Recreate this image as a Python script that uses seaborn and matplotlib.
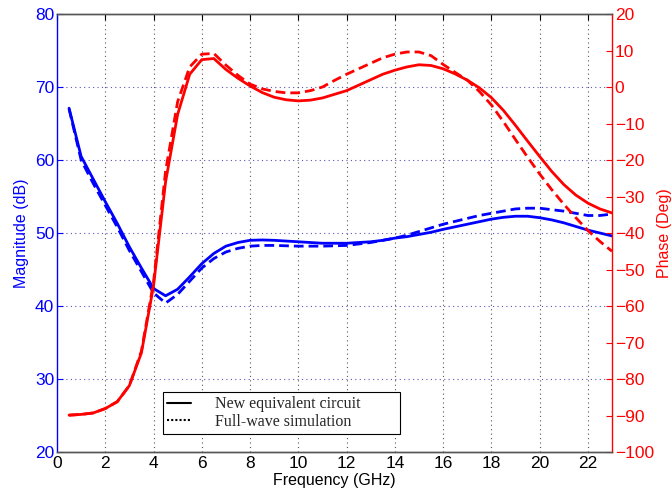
import numpy as np
import pandas as pd
import matplotlib
matplotlib.use("Agg")
import matplotlib.pyplot as plt
from matplotlib.lines import Line2D
import seaborn as sns

# ---- data ----
freq = [0.5, 1.0, 1.5, 2.0, 2.5, 3.0, 3.5, 4.0, 4.5, 5.0, 5.5, 6.0, 6.5, 7.0, 7.5, 8.0,
        8.5, 9.0, 9.5, 10.0, 10.5, 11.0, 11.5, 12.0, 12.5, 13.0, 13.5, 14.0, 14.5, 15.0,
        15.5, 16.0, 16.5, 17.0, 17.5, 18.0, 18.5, 19.0, 19.5, 20.0, 20.5, 21.0, 21.5,
        22.0, 22.5, 23.0]

mag_new = [67.1, 60.5, 57.4, 54.3, 51.3, 48.1, 45.2, 42.4, 41.4, 42.3, 44.0, 45.8, 47.2, 48.2, 48.7, 49.0,
           49.05, 49.0, 48.9, 48.8, 48.7, 48.6, 48.6, 48.6, 48.7, 48.8, 49.0, 49.3, 49.5, 49.8,
           50.1, 50.5, 50.85, 51.2, 51.55, 51.9, 52.15, 52.3, 52.3, 52.1, 51.8, 51.4, 50.9,
           50.4, 50.0, 49.6]

mag_fw = [67.0, 60.0, 56.8, 53.8, 50.8, 47.6, 44.7, 41.8, 40.4, 41.6, 43.4, 45.2, 46.5, 47.4, 47.9, 48.2,
          48.3, 48.3, 48.25, 48.2, 48.2, 48.2, 48.25, 48.3, 48.5, 48.7, 49.0, 49.3, 49.7, 50.2,
          50.7, 51.2, 51.6, 52.0, 52.4, 52.7, 53.0, 53.3, 53.4, 53.4, 53.2, 53.0, 52.7,
          52.4, 52.4, 52.6]

ph_new = [-89.9, -89.7, -89.3, -88.1, -86.2, -81.8, -72.8, -54.5, -26.0, -7.5, 3.5, 7.5, 7.8, 4.8, 2.4, 0.3,
          -1.5, -2.8, -3.5, -3.8, -3.6, -3.0, -2.0, -1.0, 0.5, 2.0, 3.5, 4.6, 5.5, 6.1,
          5.9, 5.0, 3.6, 1.9, -0.2, -2.9, -6.4, -10.5, -14.8, -19.0, -23.1, -26.7, -29.6,
          -31.8, -33.4, -34.5]

ph_fw = [-89.9, -89.7, -89.3, -88.1, -86.2, -81.8, -72.3, -53.5, -23.0, -4.0, 5.5, 9.0, 9.2, 6.0, 3.2, 0.8,
         -0.5, -1.2, -1.6, -1.6, -1.0, 0.0, 1.8, 3.5, 5.0, 6.5, 8.0, 9.0, 9.6, 9.6,
         8.6, 6.2, 4.0, 1.9, -1.2, -4.9, -9.5, -14.4, -19.2, -23.8, -28.1, -32.1, -35.8,
         -39.3, -42.3, -45.0]

legend_labels = ["New equivalent circuit", "Full-wave simulation"]
x_ticks = list(range(0, 23, 2))
mag_ticks = list(range(20, 81, 10))
ph_ticks = list(range(-100, 21, 10))

# ---- style ----
sns.set_style("white")
plt.rcParams["font.family"] = ["Liberation Sans", "DejaVu Sans"]

BLUE = "#0000ff"
RED = "#ff0000"
DASH = (3.5, 1.8)

fig = plt.figure(figsize=(6.72, 4.97), dpi=100)
ax = fig.add_axes([0.0848, 0.0905, 0.8259, 0.8813])
ax2 = ax.twinx()

df = pd.DataFrame({"f": freq, "mag_new": mag_new, "mag_fw": mag_fw,
                   "ph_new": ph_new, "ph_fw": ph_fw})

sns.lineplot(data=df, x="f", y="mag_new", ax=ax, color=BLUE, lw=2.0, estimator=None)
sns.lineplot(data=df, x="f", y="mag_fw", ax=ax, color=BLUE, lw=2.0, estimator=None)
ax.lines[-1].set_dashes(DASH)
sns.lineplot(data=df, x="f", y="ph_new", ax=ax2, color=RED, lw=2.0, estimator=None)
sns.lineplot(data=df, x="f", y="ph_fw", ax=ax2, color=RED, lw=2.0, estimator=None)
ax2.lines[-1].set_dashes(DASH)

ax.set_xlim(0, 23)
ax.set_ylim(20, 80)
ax2.set_ylim(-100, 20)
ax.set_xticks(x_ticks)
ax.set_yticks(mag_ticks)
ax2.set_yticks(ph_ticks)

# grid
for xv in x_ticks[1:]:
    ax.axvline(xv, color="#555555", lw=0.8, ls=(0, (1, 3)), zorder=0)
for yv in mag_ticks[1:-1]:
    ax.axhline(yv, color="#5555bb", lw=0.8, ls=(0, (1, 3)), zorder=0)

ax.set_xlabel("Frequency (GHz)", fontsize=11.5, color="black", labelpad=1)
ax.set_ylabel("Magnitude (dB)", fontsize=11.5, color=BLUE, labelpad=4)
ax2.set_ylabel("Phase (Deg)", fontsize=11.5, color=RED, labelpad=2)

ax.tick_params(axis="x", direction="in", length=4, labelsize=12.5, colors="black", pad=3, top=True)
ax.tick_params(axis="y", direction="in", length=4, labelsize=12.5, colors=BLUE, labelcolor=BLUE, pad=2)
ax2.tick_params(axis="y", direction="in", length=4, labelsize=12.5, colors=RED, labelcolor=RED, pad=2)

for a in (ax, ax2):
    a.spines["top"].set_color("#555555")
    a.spines["bottom"].set_color("#555555")
    a.spines["left"].set_color(BLUE)
    a.spines["right"].set_color(RED)
    for s in a.spines.values():
        s.set_linewidth(1.0)
ax2.spines["left"].set_visible(False)
ax.spines["right"].set_visible(False)

handles = [Line2D([], [], color="black", lw=1.5, ls="-"),
           Line2D([], [], color="black", lw=1.5, ls=(0, (1, 1)))]
leg = ax2.legend(handles, legend_labels, loc="lower left", bbox_to_anchor=(0.191, 0.041, 0.427, 0.128),
                 mode="expand", frameon=True, fancybox=False, edgecolor="black", framealpha=1,
                 prop={"family": ["Liberation Serif"], "size": 11.5}, handlelength=1.5,
                 borderpad=0.25, labelspacing=0.1, handletextpad=1.5, borderaxespad=0)
leg.get_frame().set_linewidth(0.8)

fig.savefig("out.png", dpi=100)
